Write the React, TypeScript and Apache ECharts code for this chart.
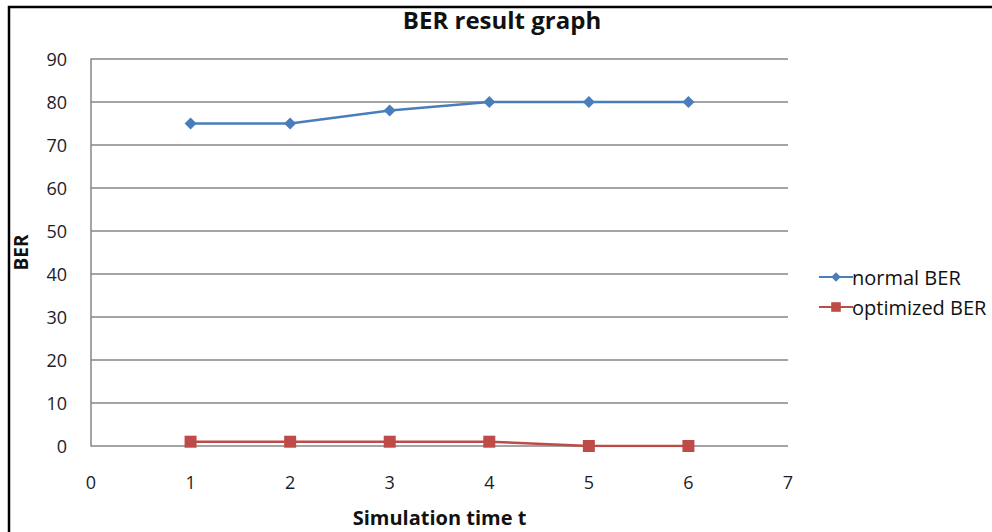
import React, { useEffect, useRef } from "react";
import * as echarts from "echarts";

const timeSteps = [1, 2, 3, 4, 5, 6];
const normalBER = [75, 75, 78, 80, 80, 80];
const optimizedBER = [1, 1, 1, 1, 0, 0];
const titleText = "BER result graph";
const xName = "Simulation time t";
const yName = "BER";

const FONT = "'Open Sans', 'DejaVu Sans', sans-serif";

export default function App() {
  const ref = useRef<HTMLDivElement>(null);
  useEffect(() => {
    if (!ref.current) return;
    const chart = echarts.init(ref.current, undefined, { renderer: "svg" });
    chart.setOption({
      animation: false,
      backgroundColor: "#ffffff",
      title: {
        text: titleText,
        left: 497,
        top: 2,
        textAlign: "center",
        textStyle: { fontFamily: FONT, fontWeight: "bold", fontSize: 24, color: "#111" },
      },
      legend: {
        orient: "vertical",
        left: 813,
        top: 262,
        itemGap: 10,
        itemWidth: 34,
        itemHeight: 12,
        textStyle: { fontFamily: FONT, fontSize: 20, color: "#111", padding: [0, 0, 0, -6] },
        data: ["normal BER", "optimized BER"],
      },
      grid: { left: 91, right: 204, top: 59, bottom: 79, containLabel: false },
      xAxis: {
        type: "value",
        min: 0,
        max: 7,
        interval: 1,
        name: xName,
        nameLocation: "middle",
        nameGap: 61,
        nameTextStyle: { fontFamily: FONT, fontWeight: "bold", fontSize: 20, color: "#111" },
        axisLine: { show: false },
        axisTick: { show: false },
        splitLine: { show: false },
        axisLabel: { fontFamily: FONT, fontSize: 18, color: "#1c1c28", margin: 27 },
      },
      yAxis: {
        type: "value",
        min: 0,
        max: 90,
        interval: 10,
        name: yName,
        nameLocation: "middle",
        nameGap: 61,
        nameRotate: 90,
        nameTextStyle: { fontFamily: FONT, fontWeight: "bold", fontSize: 19, color: "#111" },
        axisLine: { show: true, lineStyle: { color: "#868686", width: 1.5 } },
        axisTick: { show: false },
        splitLine: { show: true, lineStyle: { color: "#868686", width: 1.5 } },
        axisLabel: { fontFamily: FONT, fontSize: 18, color: "#1c1c28", margin: 24 },
      },
      graphic: [
        {
          type: "rect",
          shape: { x: 9, y: 7, width: 1100, height: 600 },
          style: { fill: "none", stroke: "#000", lineWidth: 2.5 },
          silent: true,
        },
      ],
      series: [
        {
          name: "normal BER",
          type: "line",
          data: timeSteps.map((t, i) => [t, normalBER[i]]),
          symbol: "diamond",
          symbolSize: 12,
          lineStyle: { color: "#4a7ebb", width: 2.5 },
          itemStyle: { color: "#4a7ebb" },
        },
        {
          name: "optimized BER",
          type: "line",
          data: timeSteps.map((t, i) => [t, optimizedBER[i]]),
          symbol: "rect",
          symbolSize: 12,
          lineStyle: { color: "#be4b48", width: 2.5 },
          itemStyle: { color: "#be4b48" },
        },
      ],
    });
    return () => chart.dispose();
  }, []);
  return (
    <div
      ref={ref}
      style={{ position: "fixed", left: 0, top: 0, width: 992, height: 532 }}
    />
  );
}
